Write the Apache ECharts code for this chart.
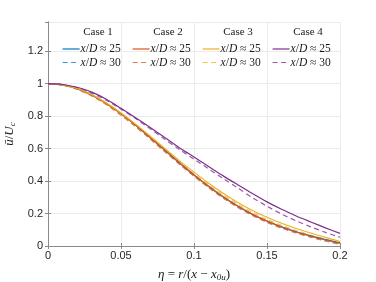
<!DOCTYPE html>
<html><head><meta charset="utf-8">
<script src="https://cdn.jsdelivr.net/npm/echarts@6/dist/echarts.min.js"></script>
<style>html,body{margin:0;padding:0;background:#fff}#c{width:376px;height:282px}</style>
</head><body><div id="c"></div>
<script>
const eta = [0,0.01,0.02,0.03,0.04,0.05,0.06,0.07,0.08,0.09,0.10,0.11,0.12,0.13,0.14,0.15,0.16,0.17,0.18,0.19,0.20];
const c1_25 = [1.000,0.993,0.970,0.931,0.879,0.816,0.745,0.669,0.591,0.513,0.438,0.368,0.303,0.246,0.196,0.154,0.118,0.088,0.062,0.040,0.020];
const c1_30 = [1.000,0.992,0.967,0.927,0.874,0.810,0.739,0.663,0.585,0.507,0.432,0.362,0.297,0.240,0.190,0.148,0.112,0.082,0.056,0.033,0.012];
const c2_25 = [1.000,0.992,0.968,0.929,0.877,0.814,0.743,0.667,0.589,0.511,0.437,0.367,0.302,0.245,0.195,0.153,0.117,0.086,0.060,0.037,0.016];
const c2_30 = [1.000,0.991,0.965,0.924,0.870,0.806,0.735,0.659,0.581,0.504,0.430,0.360,0.295,0.238,0.188,0.146,0.110,0.080,0.054,0.031,0.009];
const c3_25 = [1.000,0.993,0.970,0.932,0.881,0.820,0.751,0.677,0.601,0.526,0.455,0.387,0.325,0.268,0.219,0.177,0.140,0.108,0.080,0.053,0.028];
const c3_30 = [1.000,0.991,0.966,0.926,0.874,0.812,0.743,0.669,0.593,0.517,0.445,0.377,0.314,0.257,0.207,0.164,0.127,0.095,0.067,0.042,0.020];
const c4_25 = [1.000,0.995,0.978,0.948,0.904,0.848,0.790,0.730,0.668,0.606,0.548,0.490,0.432,0.377,0.323,0.272,0.226,0.185,0.148,0.112,0.078];
const c4_30 = [1.000,0.994,0.975,0.942,0.898,0.843,0.785,0.722,0.657,0.595,0.535,0.475,0.415,0.357,0.298,0.245,0.197,0.155,0.118,0.084,0.054];

const caseNames = ['Case 1','Case 2','Case 3','Case 4'];
const xTicks = [0,0.05,0.1,0.15,0.2];

const colors = ['#0072BD','#D95319','#EDB120','#7E2F8E'];
const dashColors = ['#3c94d0','#e27b4d','#f1c254','#9a5aa8'];
const seriesSets = [[c1_25,c1_30],[c2_25,c2_30],[c3_25,c3_30],[c4_25,c4_30]];
const serif = 'Liberation Serif';
const sans = 'Liberation Sans';

const series = [];
seriesSets.forEach((pair, k) => {
  pair.forEach((vals, j) => {
    series.push({
      name: 'c' + (k+1) + '_' + (j === 0 ? '25' : '30'),
      type: 'line',
      xAxisIndex: 0, yAxisIndex: 0,
      symbol: 'none',
      smooth: 0.3,
      z: j === 0 ? 3 : 2,
      data: eta.map((e, i) => [e, vals[i]]),
      lineStyle: {color: j === 0 ? colors[k] : dashColors[k], width: 1.2, type: j === 0 ? 'solid' : [5, 3.5]},
      itemStyle: {color: j === 0 ? colors[k] : dashColors[k]}
    });
  });
});

const colCenters = [98, 168, 238, 308];
const legends = colCenters.map((cx, k) => ({
  orient: 'vertical',
  left: cx - 36,
  top: 43,
  itemWidth: 17,
  itemHeight: 10,
  itemGap: 1.5,
  padding: 0,
  itemStyle: {opacity: 0},
  lineStyle: {width: 1.2},
  data: ['c' + (k+1) + '_25', 'c' + (k+1) + '_30'],
  formatter: n => '{i|x}/{i|D} ≈ ' + n.split('_')[1],
  textStyle: {fontFamily: serif, fontSize: 11.5, color: '#1a1a1a', padding: [0,0,0,-4],
    rich: {i: {fontFamily: serif, fontStyle: 'italic', fontSize: 11.5, color: '#1a1a1a'}}},
  selectedMode: false
}));

const axisColor = '#8a8a8a';
const chart = echarts.init(document.getElementById('c'), null, {renderer: 'canvas'});
chart.setOption({
  animation: false,
  backgroundColor: '#fff',
  grid: {left: 48, right: 36, top: 22, bottom: 36, containLabel: false, outerBoundsMode: 'none'},
  legend: legends,
  graphic: caseNames.map((t, k) => ({
    type: 'text', x: colCenters[k], y: 27, z: 100,
    style: {text: t, font: '11px "' + serif + '"', fill: '#1a1a1a', textAlign: 'center', textVerticalAlign: 'top'}
  })),
  xAxis: [{
    type: 'value', min: 0, max: 0.2, interval: 0.05,
    axisLine: {lineStyle: {color: axisColor}},
    axisTick: {inside: true, length: 3, lineStyle: {color: axisColor}},
    axisLabel: {color: '#262626', fontFamily: sans, fontSize: 11, margin: 4,
      formatter: v => { const t = xTicks.find(x => Math.abs(x - v) < 1e-9); return t === undefined ? '' : String(t); }},
    splitLine: {show: true, lineStyle: {color: '#ebebeb'}},
    name: '{i|η} = {i|r}/({i|x} − {i|x}{s|0u})',
    nameLocation: 'middle', nameGap: 22,
    nameTextStyle: {fontFamily: serif, fontSize: 13, color: '#1a1a1a',
      rich: {i: {fontFamily: serif, fontStyle: 'italic', fontSize: 13, color: '#1a1a1a'},
             s: {fontFamily: serif, fontStyle: 'italic', fontSize: 9, color: '#1a1a1a', verticalAlign: 'bottom', padding: [5,0,0,0]}}}
  }, {
    type: 'value', position: 'top', min: 0, max: 0.2, interval: 0.05,
    axisLine: {show: true, lineStyle: {color: axisColor}},
    axisTick: {show: true, inside: true, length: 3, lineStyle: {color: axisColor}},
    axisLabel: {show: false}, splitLine: {show: false}
  }],
  yAxis: [{
    type: 'value', min: 0, max: 1.38, interval: 0.2,
    axisLine: {show: true, lineStyle: {color: axisColor}},
    axisTick: {show: true, inside: true, length: 3, lineStyle: {color: axisColor}},
    axisLabel: {color: '#262626', fontFamily: sans, fontSize: 11, margin: 5, showMaxLabel: false,
      formatter: v => (Math.abs(v / 0.2 - Math.round(v / 0.2)) < 1e-6) ? String(Math.round(v * 10) / 10) : ''},
    splitLine: {show: true, lineStyle: {color: '#ebebeb'}},
    name: '{i|ū}/{i|U}{s|c}',
    nameLocation: 'middle', nameGap: 29, nameRotate: 90,
    nameTextStyle: {fontFamily: serif, fontSize: 13, color: '#1a1a1a',
      rich: {i: {fontFamily: serif, fontStyle: 'italic', fontSize: 13, color: '#1a1a1a'},
             s: {fontFamily: serif, fontStyle: 'italic', fontSize: 9, color: '#1a1a1a', verticalAlign: 'bottom', padding: [5,0,0,0]}}}
  }, {
    type: 'value', position: 'right', min: 0, max: 1.38, interval: 0.2,
    axisLine: {show: true, lineStyle: {color: axisColor}},
    axisTick: {show: true, inside: true, length: 3, lineStyle: {color: axisColor}},
    axisLabel: {show: false}, splitLine: {show: false}
  }],
  series: series
});
</script></body></html>
